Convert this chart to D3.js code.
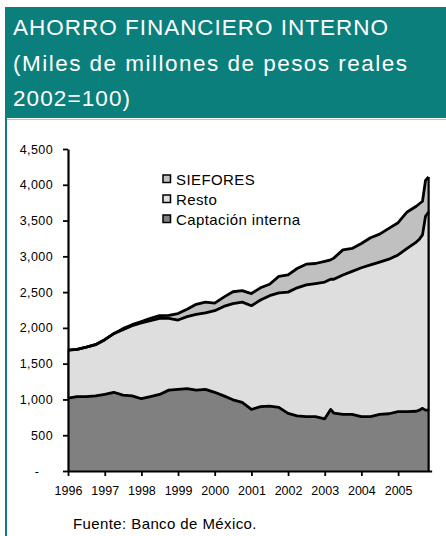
<!DOCTYPE html>
<html>
<head>
<meta charset="utf-8">
<script src="https://cdn.jsdelivr.net/npm/d3@7"></script>
<style>
  body { margin: 0; background: #fff; }
  svg { display: block; font-family: "Liberation Sans", Arial, sans-serif; }
</style>
</head>
<body>
<div id="viz"></div>
<script>
// fechas (trimestrales, con algunos meses extra)
const fechas = ["1996-01","1996-04","1996-07","1996-10","1997-01","1997-04","1997-07","1997-10",
  "1998-01","1998-04","1998-07","1998-10","1999-01","1999-04","1999-07","1999-10",
  "2000-01","2000-04","2000-07","2000-10","2001-01","2001-04","2001-07","2001-10",
  "2002-01","2002-04","2002-07","2002-10","2003-01","2003-03","2003-04","2003-07","2003-10",
  "2004-01","2004-04","2004-07","2004-10","2005-01","2005-04","2005-07","2005-08","2005-09",
  "2005-10","2005-11"];

const captacion = [1020,1040,1040,1050,1070,1100,1060,1050,1010,1040,1070,1130,1140,1150,1130,1140,
  1100,1050,995,960,860,900,908,890,806,770,759,759,730,860,810,792,790,759,760,792,800,829,829,835,
  850,876,850,852];

const resto = [670,660,690,715,765,820,915,980,1060,1060,1064,1004,970,1007,1060,1070,
  1140,1250,1345,1400,1450,1490,1542,1600,1694,1790,1841,1861,1910,1820,1870,1948,2000,2081,2120,
  2128,2160,2191,2281,2365,2390,2424,2710,2768];

const siefores = [0,0,0,0,0,0,15,15,20,35,36,41,90,103,140,150,
  105,130,165,160,170,170,160,230,240,270,290,280,290,270,295,350,320,340,380,390,430,450,510,500,
  495,470,500,490];

const series = ["captacion", "resto", "siefores"];
const leyenda = ["SIEFORES", "Resto", "Captación interna"];
const yTicks = [0, 500, 1000, 1500, 2000, 2500, 3000, 3500, 4000, 4500];

const width = 446;
const height = 536;
const teal = "#0b7f7c";
const colores = { captacion: "#808080", resto: "#dedede", siefores: "#c0c0c0" };

const parseMes = d3.timeParse("%Y-%m");
const datos = fechas.map((f, i) => ({
  fecha: parseMes(f),
  captacion: captacion[i],
  resto: resto[i],
  siefores: siefores[i]
}));

const svg = d3.select("#viz").append("svg")
  .attr("width", width)
  .attr("height", height);

svg.append("rect").attr("width", width).attr("height", height).attr("fill", "#fff");

// encabezado
svg.append("rect")
  .attr("x", 5).attr("y", 7)
  .attr("width", width - 5).attr("height", 111)
  .attr("fill", teal);
svg.append("line")
  .attr("x1", 6).attr("x2", 6).attr("y1", 7).attr("y2", height)
  .attr("stroke", teal).attr("stroke-width", 2);
svg.append("line")
  .attr("x1", 7).attr("x2", width).attr("y1", 119.5).attr("y2", 119.5)
  .attr("stroke", "#9fcfcd").attr("stroke-width", 1);

const titulo = [
  { t: "AHORRO FINANCIERO INTERNO", y: 35, w: 375 },
  { t: "(Miles de millones de pesos reales", y: 71, w: 394 },
  { t: "2002=100)", y: 106, w: 117 }
];
svg.selectAll(".titulo")
  .data(titulo)
  .enter()
  .append("text")
  .attr("x", 13)
  .attr("y", d => d.y)
  .attr("textLength", d => d.w)
  .attr("lengthAdjust", "spacing")
  .attr("fill", "#fff")
  .attr("font-size", "22.5px")
  .text(d => d.t);

// escalas
const x = d3.scaleTime()
  .domain([new Date(1996, 0, 1), new Date(2005, 11, 1)])
  .range([68, 68 + 36.67 * (9 + 11 / 12)]);

const y = d3.scaleLinear()
  .domain([0, 4500])
  .range([471, 149]);

const stack = d3.stack().keys(series);
const capas = stack(datos);

const area = d3.area()
  .x(d => x(d.data.fecha))
  .y0(d => y(d[0]))
  .y1(d => y(d[1]));

const linea = d3.line()
  .x(d => x(d.data.fecha))
  .y(d => y(d[1]));

svg.selectAll(".area")
  .data(capas)
  .enter()
  .append("path")
  .attr("d", area)
  .attr("fill", d => colores[d.key])
  .attr("stroke", d => d.key === "resto" ? "#1a9a96" : "none")
  .attr("stroke-width", 1.5);

svg.selectAll(".linea")
  .data(capas)
  .enter()
  .append("path")
  .attr("d", linea)
  .attr("fill", "none")
  .attr("stroke", "#000")
  .attr("stroke-width", 2.8)
  .attr("stroke-linejoin", "round");

// borde derecho del area
const ultimo = capas[2][capas[2].length - 1];
svg.append("line")
  .attr("x1", x(ultimo.data.fecha)).attr("x2", x(ultimo.data.fecha))
  .attr("y1", y(ultimo[1])).attr("y2", y(0))
  .attr("stroke", "#000").attr("stroke-width", 2.2);

// ejes
const yAxis = svg.append("g")
  .attr("transform", "translate(68,0)")
  .call(d3.axisLeft(y)
    .tickValues(yTicks)
    .tickSize(5)
    .tickSizeOuter(0)
    .tickFormat(d => d === 0 ? "-" : d3.format(",")(d)));

yAxis.select(".domain").attr("stroke-width", 2.2);
yAxis.selectAll(".tick line").attr("stroke-width", 1.8);
yAxis.selectAll(".tick text")
  .attr("x", -15)
  .attr("font-size", "12.5px")
  .attr("letter-spacing", "0.4px")
  .attr("font-family", "Liberation Sans, Arial, sans-serif")
  .attr("fill", "#000");
yAxis.selectAll(".tick text").filter(d => d === 0)
  .attr("x", -31)
  .attr("text-anchor", "middle");

const xAxis = svg.append("g")
  .attr("transform", "translate(0,471)")
  .call(d3.axisBottom(x)
    .ticks(d3.timeYear.every(1))
    .tickSize(5)
    .tickSizeOuter(0)
    .tickFormat(d3.timeFormat("%Y")));

xAxis.select(".domain").attr("stroke-width", 2.2);
xAxis.selectAll(".tick line").attr("stroke-width", 1.8);
xAxis.selectAll(".tick text")
  .attr("y", 15)
  .attr("font-size", "12.5px")
  .attr("font-family", "Liberation Sans, Arial, sans-serif")
  .attr("fill", "#000");

// leyenda
const clavesLeyenda = ["siefores", "resto", "captacion"];
const itemLeyenda = svg.selectAll(".leyenda")
  .data(leyenda)
  .enter()
  .append("g")
  .attr("transform", (d, i) => "translate(163," + (175 + i * 20) + ")");

itemLeyenda.append("rect")
  .attr("width", 7.5).attr("height", 7.5)
  .attr("fill", (d, i) => colores[clavesLeyenda[i]])
  .attr("stroke", "#000")
  .attr("stroke-width", 1.5);

itemLeyenda.append("text")
  .attr("x", 13)
  .attr("y", 10)
  .attr("font-size", "15px")
  .attr("letter-spacing", "0.4px")
  .attr("fill", "#000")
  .text(d => d);

// fuente
svg.append("text")
  .attr("x", 73)
  .attr("y", 529)
  .attr("font-size", "15px")
  .attr("letter-spacing", "0.4px")
  .attr("fill", "#000")
  .text("Fuente: Banco de México.");
</script>
</body>
</html>
